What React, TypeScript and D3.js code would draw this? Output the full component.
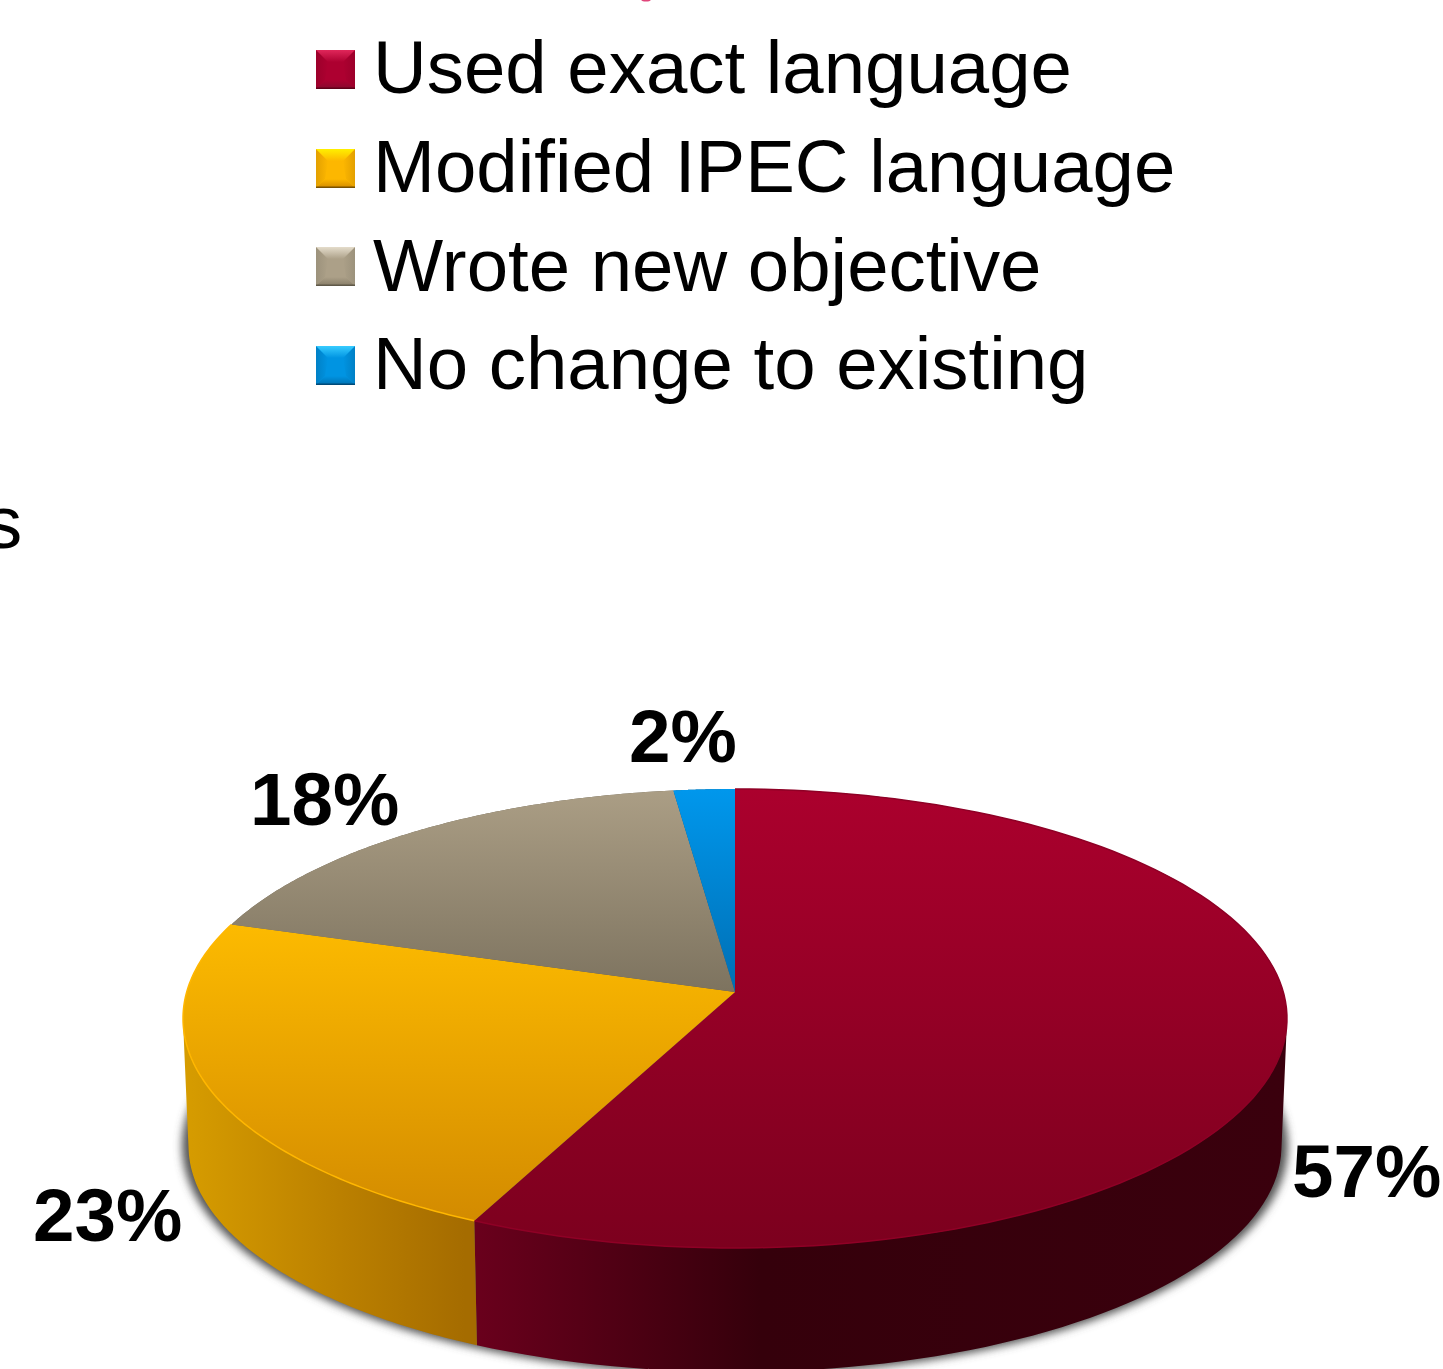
import React from "react";
import * as d3 from "d3";

// Survey shares, in clockwise order from twelve o'clock
const categories = [
  "Used exact language",
  "Modified IPEC language",
  "Wrote new objective",
  "No change to existing",
];
const shares = [57, 23, 18, 2];
const shareLabels = ["57%", "23%", "18%", "2%"];

const W = 1443;
const H = 1369;
const FONT = '"Liberation Sans", Arial, sans-serif';

// Tilted disc: perspective projection of the unit circle
const CX = 735;
const CY = 992;
const AX = 548.3;
const BY = 226.4;
const K = 0.1155;

type Pt = [number, number];

const projectTop = (angle: number): Pt => {
  const u = Math.sin(angle);
  const v = Math.cos(angle);
  const d = 1 + K * v;
  return [CX + (AX * u) / d, CY - (BY * v) / d];
};

// Lower rim of the disc: slightly smaller, further down
const projectBottom = (angle: number): Pt => {
  const [x, y] = projectTop(angle);
  return [736 + (x - 736) * 0.99, 1146 + (y - 1018.5) * 0.985];
};

// Outline of the cast shadow, a little wider than the lower rim
const projectShadow = (angle: number): Pt => {
  const [x, y] = projectBottom(angle);
  return [736 + (x - 736) * 1.012, 1146 + (y - 1146) * 1.012];
};

const line = d3.line<Pt>();
const arcSteps = (a0: number, a1: number, n = 120) =>
  d3.range(0, n + 1).map((i) => a0 + ((a1 - a0) * i) / n);

const slices = d3
  .pie<number>()
  .sort(null)
  .startAngle(0)
  .endAngle(2 * Math.PI)(shares);

const topPath = (a0: number, a1: number) =>
  line([[CX, CY], ...arcSteps(a0, a1).map(projectTop)]) + "Z";

// The wall is a run of small quads, all wound the same way, so that it fills
// out to the straight silhouette between the upper and lower rims
const sidePath = (a0: number, a1: number) => {
  const steps = arcSteps(a0, a1);
  return steps
    .slice(1)
    .map((a, i) => {
      const quad: Pt[] = [
        projectTop(steps[i]),
        projectTop(a),
        projectBottom(a),
        projectBottom(steps[i]),
      ];
      if (d3.polygonArea(quad) < 0) quad.reverse();
      return line(quad) + "Z";
    })
    .join("");
};

const shadowOutline = line(arcSteps(0, 2 * Math.PI).map(projectShadow)) + "Z";

const topStops = [
  ["#ab002d", "#7c001e"],
  ["#fdbb00", "#d38b00"],
  ["#ab9e85", "#7d735f"],
  ["#0097ec", "#006fb4"],
];
const topRanges = [
  [789, 1248],
  [920, 1220],
  [790, 992],
  [790, 992],
];
const sideStops = [
  [
    [463, "#6c001d"],
    [760, "#35000b"],
    [1285, "#3a000d"],
  ],
  [
    [186, "#d69c00"],
    [340, "#bb8000"],
    [465, "#a56c00"],
  ],
  [
    [237, "#6f6654"],
    [685, "#5f5747"],
  ],
  [
    [685, "#00588a"],
    [735, "#00588a"],
  ],
];
const rimColors = ["#8f0026", "#ffb700"];

// Legend key tints: top glow, side shade, bottom shade, face, lower edge
const keyTints = [
  ["#e0275a", "#9c002b", "#860a2e", "#ad0030", "#5f0018"],
  ["#fff000", "#e3a000", "#d28a00", "#fdb700", "#7a5200"],
  ["#e4dccb", "#9c927c", "#857b66", "#aca088", "#5f5848"],
  ["#38ccff", "#0080c6", "#0070b0", "#0094e2", "#004a78"],
];
const keyTops = [50, 149, 247, 346];
const legendBaselines = [93, 192, 290.5, 389];
const KEY_X = 316;
const KEY = 39;
const TOP_BEVEL = 12;
const LOW_BEVEL = 9;

// Label position for each slice, in slice order
const labelAt: Pt[] = [
  [1292, 1197],
  [33, 1241],
  [250, 825],
  [629, 762],
];

const LegendKey = ({ i }: { i: number }) => {
  const x0 = KEY_X;
  const y0 = keyTops[i];
  const x1 = x0 + KEY;
  const y1 = y0 + KEY;
  const [glow, side, low, face, edge] = keyTints[i];
  const poly = (pts: Pt[], fill: string) => (
    <polygon points={pts.map((p) => p.join(",")).join(" ")} fill={fill} />
  );
  return (
    <g>
      <defs>
        <linearGradient id={`keyTop${i}`} x1="0" x2="0" y1="0" y2="1">
          <stop offset="0" stopColor={glow} />
          <stop offset="1" stopColor={face} />
        </linearGradient>
        <linearGradient id={`keyLow${i}`} x1="0" x2="0" y1="0" y2="1">
          <stop offset="0" stopColor={face} />
          <stop offset="1" stopColor={low} />
        </linearGradient>
        <linearGradient id={`keyLeft${i}`} x1="0" x2="1" y1="0" y2="0">
          <stop offset="0" stopColor={side} />
          <stop offset="1" stopColor={face} />
        </linearGradient>
        <linearGradient id={`keyRight${i}`} x1="1" x2="0" y1="0" y2="0">
          <stop offset="0" stopColor={side} />
          <stop offset="1" stopColor={face} />
        </linearGradient>
      </defs>
      <rect x={x0} y={y0} width={KEY} height={KEY} fill={face} />
      {poly(
        [[x0, y0], [x0 + TOP_BEVEL, y0 + TOP_BEVEL], [x0 + LOW_BEVEL, y1 - LOW_BEVEL], [x0, y1]],
        `url(#keyLeft${i})`
      )}
      {poly(
        [[x1, y0], [x1 - TOP_BEVEL, y0 + TOP_BEVEL], [x1 - LOW_BEVEL, y1 - LOW_BEVEL], [x1, y1]],
        `url(#keyRight${i})`
      )}
      {poly(
        [[x0, y0], [x1, y0], [x1 - TOP_BEVEL, y0 + TOP_BEVEL], [x0 + TOP_BEVEL, y0 + TOP_BEVEL]],
        `url(#keyTop${i})`
      )}
      {poly(
        [[x0 + LOW_BEVEL, y1 - LOW_BEVEL], [x1 - LOW_BEVEL, y1 - LOW_BEVEL], [x1, y1], [x0, y1]],
        `url(#keyLow${i})`
      )}
      <rect x={x0} y={y1 - 1.5} width={KEY} height={1.5} fill={edge} />
    </g>
  );
};

export default function App() {
  return (
    <svg
      width={W}
      height={H}
      viewBox={`0 0 ${W} ${H}`}
      style={{ position: "absolute", left: 0, top: 0, display: "block" }}
    >
      <defs>
        <filter id="soft" x="-10%" y="-10%" width="120%" height="120%">
          <feGaussianBlur stdDeviation="4" />
        </filter>
        {slices.map((_, i) => (
          <linearGradient
            key={`t${i}`}
            id={`top${i}`}
            gradientUnits="userSpaceOnUse"
            x1={0}
            x2={0}
            y1={topRanges[i][0]}
            y2={topRanges[i][1]}
          >
            <stop offset="0" stopColor={topStops[i][0]} />
            <stop offset="1" stopColor={topStops[i][1]} />
          </linearGradient>
        ))}
        {slices.map((_, i) => {
          const stops = sideStops[i] as [number, string][];
          const x0 = stops[0][0];
          const x1 = stops[stops.length - 1][0];
          return (
            <linearGradient
              key={`s${i}`}
              id={`side${i}`}
              gradientUnits="userSpaceOnUse"
              x1={x0}
              x2={x1}
              y1={0}
              y2={0}
            >
              {stops.map(([x, c], j) => (
                <stop key={j} offset={(x - x0) / (x1 - x0)} stopColor={c} />
              ))}
            </linearGradient>
          );
        })}
      </defs>

      <rect width={W} height={H} fill="#fff" />

      {/* Fragments of neighbouring slide text at the crop edges */}
      <ellipse cx={646} cy={-1} rx={5} ry={2.5} fill="#e0457a" />
      <text x={-15} y={548} fontFamily={FONT} fontSize={74.4} fill="#000">
        s
      </text>

      {/* Legend */}
      {categories.map((name, i) => (
        <g key={name}>
          <LegendKey i={i} />
          <text
            x={373}
            y={legendBaselines[i]}
            fontFamily={FONT}
            fontSize={74.4}
            fill="#000"
          >
            {name}
          </text>
        </g>
      ))}

      {/* Soft shadow under the disc */}
      <path d={shadowOutline} fill="#555" filter="url(#soft)" />

      {/* Disc wall, then the top face over it */}
      {slices.map((s, i) => (
        <path
          key={`wall${i}`}
          d={sidePath(s.startAngle, s.endAngle)}
          fill={`url(#side${i})`}
        />
      ))}
      {slices.map((s, i) => (
        <path
          key={`face${i}`}
          d={topPath(s.startAngle, s.endAngle)}
          fill={`url(#top${i})`}
        />
      ))}

      {/* Lit edge where the top face meets the wall */}
      {slices.slice(0, 2).map((s, i) => (
        <path
          key={`rim${i}`}
          d={line(arcSteps(s.startAngle, s.endAngle).map(projectTop)) ?? ""}
          fill="none"
          stroke={rimColors[i]}
          strokeWidth={1.5}
        />
      ))}

      {/* Share labels */}
      {slices.map((_, i) => (
        <text
          key={`label${i}`}
          x={labelAt[i][0]}
          y={labelAt[i][1]}
          fontFamily={FONT}
          fontWeight="bold"
          fontSize={74.6}
          fill="#000"
        >
          {shareLabels[i]}
        </text>
      ))}
    </svg>
  );
}
